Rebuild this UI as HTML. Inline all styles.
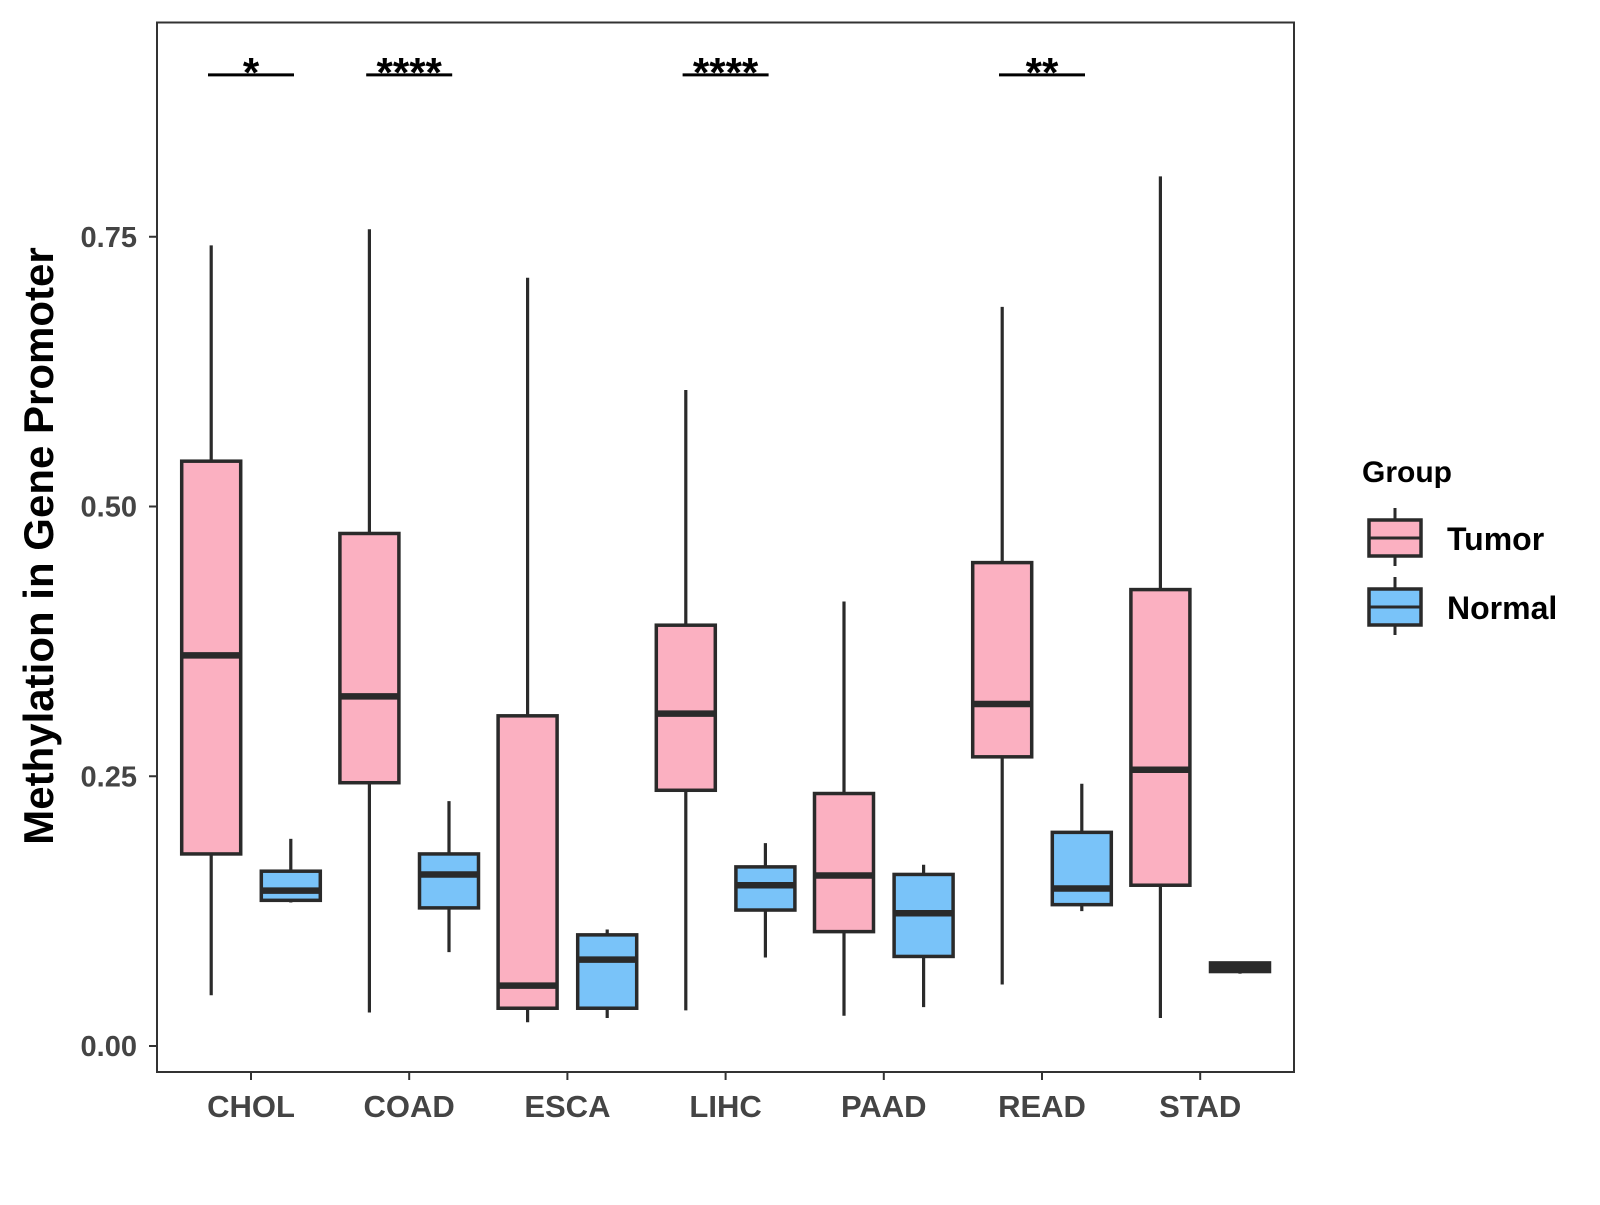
<!DOCTYPE html>
<html><head><meta charset="utf-8"><style>
body{margin:0;background:#fff;}
svg text{font-family:"Liberation Sans",sans-serif;font-weight:bold;}
</style></head><body>
<svg id="chart" width="1600" height="1200" viewBox="0 0 1600 1200">
<rect x="0" y="0" width="1600" height="1200" fill="#fff"/>
<g id="marks"></g>
<rect x="157" y="22.5" width="1137" height="1049.5" fill="none" stroke="#333" stroke-width="2"/>
<g id="axes"></g>
<text x="39" y="546" transform="rotate(-90 39 546) translate(0 14)" text-anchor="middle" font-size="42" fill="#000">Methylation in Gene Promoter</text>
<g>
<text x="1362" y="482" font-size="30" fill="#000">Group</text>
<g>
<line x1="1395" y1="508" x2="1395" y2="566" stroke="#2a2a2a" stroke-width="3"/>
<rect x="1369" y="520" width="52" height="36" fill="#FBB0C1" stroke="#2a2a2a" stroke-width="3.5"/>
<line x1="1369" y1="538" x2="1421" y2="538" stroke="#2a2a2a" stroke-width="3"/>
<text x="1447" y="550" font-size="32" fill="#000">Tumor</text>
</g>
<g>
<line x1="1395" y1="577" x2="1395" y2="635" stroke="#2a2a2a" stroke-width="3"/>
<rect x="1369" y="589" width="52" height="36" fill="#79C3F9" stroke="#2a2a2a" stroke-width="3.5"/>
<line x1="1369" y1="607" x2="1421" y2="607" stroke="#2a2a2a" stroke-width="3"/>
<text x="1447" y="619" font-size="32" fill="#000">Normal</text>
</g>
</g>
</svg>
<script>
const categories=["CHOL","COAD","ESCA","LIHC","PAAD","READ","STAD"];
// [lowWhisker, q1, median, q3, highWhisker]
const tumorStats=[[0.047,0.178,0.362,0.542,0.742],[0.031,0.244,0.324,0.475,0.757],[0.022,0.035,0.056,0.306,0.712],[0.033,0.237,0.308,0.390,0.608],[0.028,0.106,0.158,0.234,0.412],[0.057,0.268,0.317,0.448,0.685],[0.026,0.149,0.256,0.423,0.806]];
const normalStats=[[0.133,0.135,0.144,0.162,0.192],[0.087,0.128,0.159,0.178,0.227],[0.026,0.035,0.080,0.103,0.108],[0.082,0.126,0.149,0.166,0.188],[0.036,0.083,0.123,0.159,0.168],[0.125,0.131,0.146,0.198,0.243],[0.067,0.069,0.073,0.077,0.078]];
const yTicks=[0,0.25,0.5,0.75];
const yTickLabels=["0.00","0.25","0.50","0.75"];
const sigLabels=["*","****","","****","","**",""];
const sigLevel=0.900;

const NS="http://www.w3.org/2000/svg";
const x0=251, dx=158.2, off=39.8, bw=59;
const xScale=i=>x0+i*dx;
const yScale=v=>1046-v*1079;
const marks=document.getElementById('marks');
const axes=document.getElementById('axes');
function mk(tag,attrs,parent){const e=document.createElementNS(NS,tag);for(const k in attrs)e.setAttribute(k,attrs[k]);parent.appendChild(e);return e;}

function box(cx,s,fill,name){
  const g=mk('g',{},marks);
  
  
  mk('line',{x1:cx,x2:cx,y1:yScale(s[4]),y2:yScale(s[0]),stroke:'#2a2a2a','stroke-width':3.2},g);
  mk('rect',{x:cx-bw/2,y:yScale(s[3]),width:bw,height:Math.max(yScale(s[1])-yScale(s[3]),1),fill:fill,stroke:'#2a2a2a','stroke-width':3.5},g);
  mk('line',{x1:cx-bw/2,x2:cx+bw/2,y1:yScale(s[2]),y2:yScale(s[2]),stroke:'#2a2a2a','stroke-width':6.5},g);
}
categories.forEach((c,i)=>{
  box(xScale(i)-off,tumorStats[i],'#FBB0C1','box-tumor-'+c.toLowerCase());
  box(xScale(i)+off,normalStats[i],'#79C3F9','box-normal-'+c.toLowerCase());
  if(sigLabels[i]){
    const g=mk('g',{},marks);
    
    
    const y=yScale(sigLevel);
    mk('line',{x1:xScale(i)-43,x2:xScale(i)+43,y1:y,y2:y,stroke:'#000','stroke-width':3},g);
    const t=mk('text',{x:xScale(i),y:y+12,'text-anchor':'middle','font-size':42,fill:'#000'},g);
    t.textContent=sigLabels[i];
  }
  mk('line',{x1:xScale(i),x2:xScale(i),y1:1072,y2:1080,stroke:'#333','stroke-width':2},axes);
  const t=mk('text',{x:xScale(i),y:1117,'text-anchor':'middle','font-size':31,fill:'#444'},axes);
  
  
  t.textContent=c;
});
yTicks.forEach((v,i)=>{
  mk('line',{x1:149,x2:157,y1:yScale(v),y2:yScale(v),stroke:'#333','stroke-width':2},axes);
  const t=mk('text',{x:137,y:yScale(v)+10,'text-anchor':'end','font-size':29,fill:'#444'},axes);
  
  
  t.textContent=yTickLabels[i];
});
</script>
</body></html>
